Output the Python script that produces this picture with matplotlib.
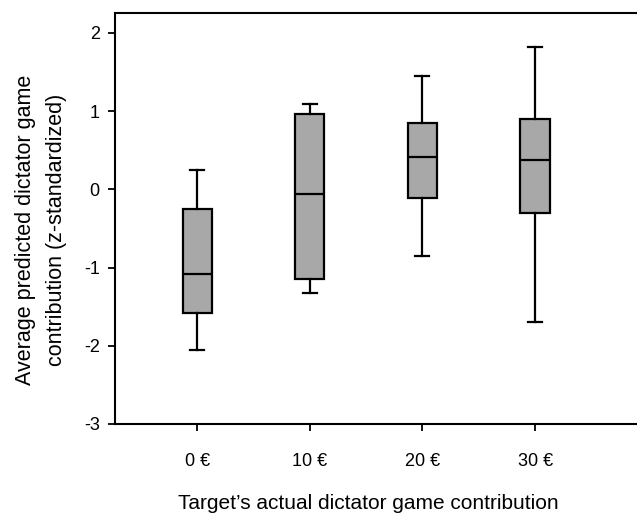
import matplotlib
matplotlib.use("Agg")
import matplotlib.pyplot as plt

plt.rcParams['font.family'] = ['Liberation Sans', 'DejaVu Sans']

categories = ["0 €", "10 €", "20 €", "30 €"]
whislo = [-2.05, -1.33, -0.85, -1.70]
q1 = [-1.58, -1.15, -0.11, -0.30]
med = [-1.08, -0.06, 0.42, 0.38]
q3 = [-0.25, 0.96, 0.85, 0.90]
whishi = [0.25, 1.09, 1.45, 1.82]

stats = []
for i in range(len(categories)):
    stats.append({"whislo": whislo[i], "q1": q1[i], "med": med[i],
                  "q3": q3[i], "whishi": whishi[i], "fliers": []})

fig = plt.figure(figsize=(6.37, 5.17), dpi=100)
ax = fig.add_axes([0.1805, 0.18, 0.8195, 0.794])

lw = 1.6
ax.bxp(stats, positions=range(len(categories)), widths=0.26, patch_artist=True,
       showfliers=False,
       boxprops=dict(facecolor="#a8a8a8", edgecolor="black", linewidth=lw),
       medianprops=dict(color="black", linewidth=lw),
       whiskerprops=dict(color="black", linewidth=lw),
       capprops=dict(color="black", linewidth=lw),
       capwidths=0.125)

ax.set_xlim(-0.73, 3.905)
ax.set_ylim(-3, 2.25)
ax.set_yticks([-3, -2, -1, 0, 1, 2])
ax.set_yticklabels(["-3", "-2", "-1", "0", "1", "2"])
ax.set_xticks(range(len(categories)))
ax.set_xticklabels(categories)

for s in ["left", "bottom", "top"]:
    ax.spines[s].set_linewidth(1.5)
ax.spines["right"].set_visible(False)

ax.tick_params(axis="both", direction="out", length=5, width=1.3, labelsize=13, colors="black")
ax.tick_params(axis="x", pad=16)
ax.tick_params(axis="y", pad=6)

ax.set_xlabel("Target’s actual dictator game contribution", fontsize=15)
ax.set_ylabel("Average predicted dictator game\ncontribution (z-standardized)", fontsize=15.5,
              linespacing=1.6)
ax.xaxis.label.set_verticalalignment("center")
ax.xaxis.set_label_coords(0.485, -0.195)
ax.yaxis.label.set_verticalalignment("center")
ax.yaxis.set_label_coords(-0.142, 0.472)

fig.savefig("out.png", dpi=100)
